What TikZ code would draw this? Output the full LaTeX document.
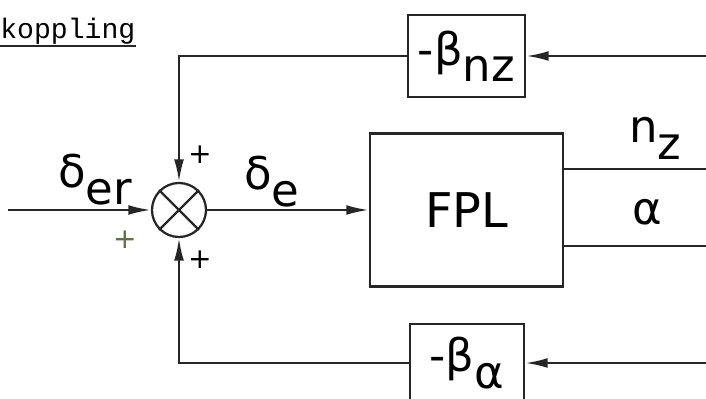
\documentclass[tikz,border=0pt]{standalone}
\usepackage{fontspec}
\setsansfont{DejaVu Sans}
\setmonofont{Liberation Mono}
\usetikzlibrary{arrows.meta}
\definecolor{plusgreen}{RGB}{96,112,64}
\newcommand{\lblfont}{\sffamily\fontsize{32}{36}\selectfont}
\newcommand{\boxfont}{\sffamily\fontsize{34}{38}\selectfont}
\newcommand{\sub}[1]{\raisebox{-0.36em}{#1}}

\begin{document}
\begin{tikzpicture}[x=0.025cm, y=-0.025cm,
	wire/.style={line width=1.6pt, black!85},
	sig/.style={wire, -{Latex[length=16pt, width=7pt]}},
	block/.style={draw=black!85, line width=1.7pt, inner sep=0pt},
	sumjunction/.style={circle, draw=black!85, line width=1.6pt, minimum size=1.35cm, inner sep=0pt},
	sign/.style={font=\sffamily\fontsize{20}{20}\selectfont, inner sep=0pt}]
	\useasboundingbox (0, 0) rectangle (706, 399);
	\node (kop) [anchor=base west, inner sep=0pt] at (0, 39) {\ttfamily\fontsize{20}{22}\selectfont koppling};
	\draw [wire, line width=1.3pt] ([yshift=-5pt]kop.base west) -- ([yshift=-5pt]kop.base east);
	\node (sum) [sumjunction] at (179, 210) {};
	\draw [wire] (sum.north west) -- (sum.south east);
	\draw [wire] (sum.north east) -- (sum.south west);
	\node (fpl) [block, minimum width=4.825cm, minimum height=3.825cm] at (466.5, 210) {\boxfont FPL};
	\node (bnz) [block, minimum width=2.925cm, minimum height=2.05cm] at (466.5, 56) {\lblfont -β\sub{nz}};
	\node (balpha) [block, minimum width=2.85cm, minimum height=1.95cm] at (467, 363) {\lblfont -β\sub{α}};
	\coordinate (in) at (8, 210);
	\coordinate (nzout) at (706, 169);
	\coordinate (aout) at (706, 246);
	\coordinate (fbtop) at (706, 56);
	\coordinate (fbbot) at (706, 363);
	\draw [sig] (in) -- (sum.west);
	\draw [sig] (sum.east) -- (fpl.west);
	\draw [wire] (fpl.east |- nzout) -- (nzout);
	\draw [wire] (fpl.east |- aout) -- (aout);
	\draw [sig] (fbtop) -- (bnz.east);
	\draw [sig] (bnz.west) -| (sum.north);
	\draw [sig] (fbbot) -- (balpha.east);
	\draw [sig] (balpha.west) -| (sum.south);
	\node (der) [anchor=base west, inner sep=0pt] at (58, 188) {\lblfont δ\sub{er}};
	\node (de) [anchor=base west, inner sep=0pt] at (244, 190) {\lblfont δ\sub{e}};
	\node (nz) [anchor=base west, inner sep=0pt] at (629, 143) {\lblfont n\sub{z}};
	\node (al) [anchor=base west, inner sep=0pt] at (632, 225) {\lblfont α};
	\node (ptop) [sign] at (200, 155) {+};
	\node (pbot) [sign] at (200, 260) {+};
	\node (pin) [sign, plusgreen] at (125, 240) {+};
\end{tikzpicture}
\end{document}
